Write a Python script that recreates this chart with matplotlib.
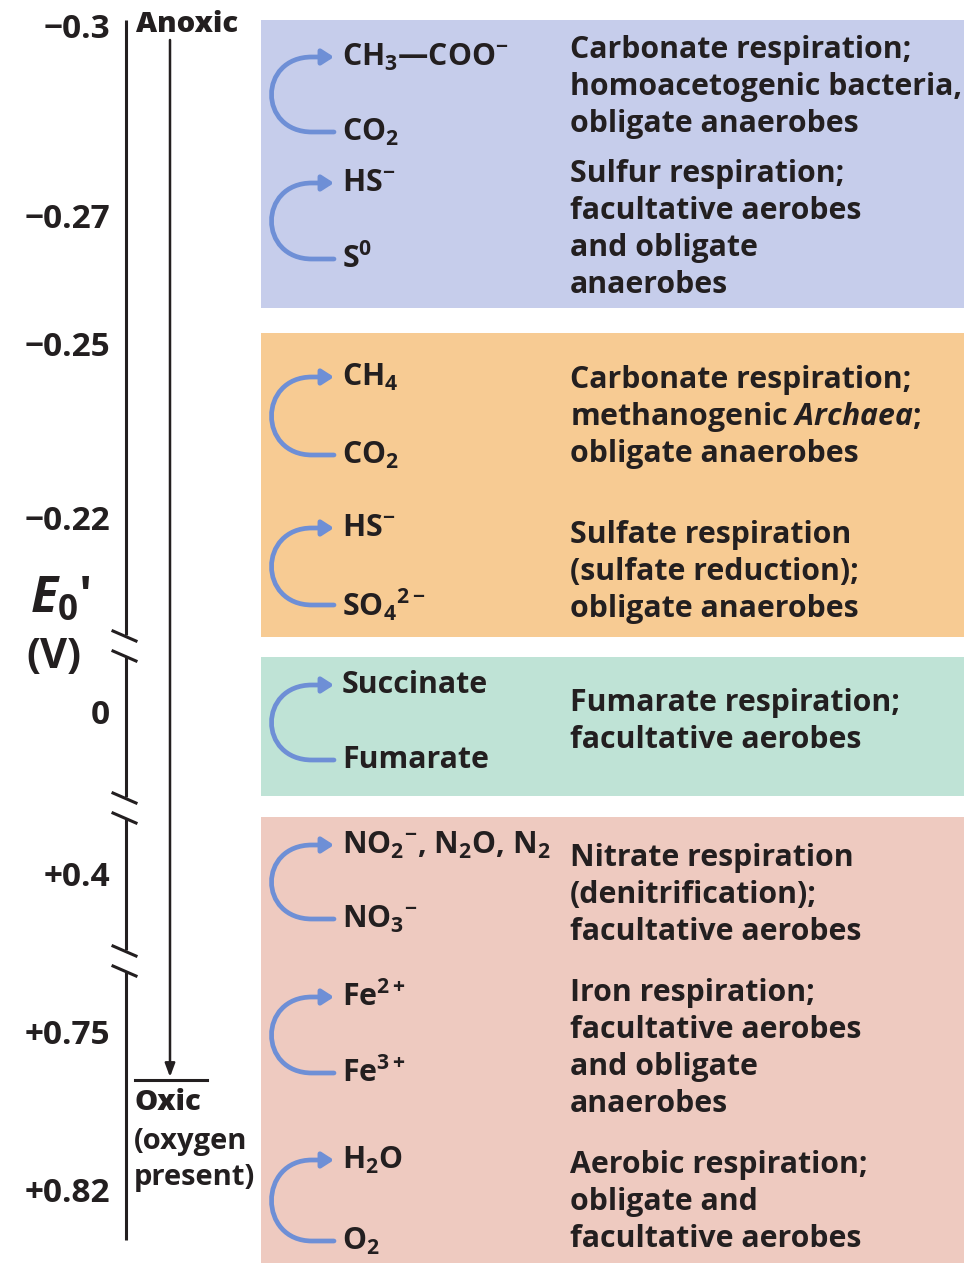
import matplotlib
matplotlib.use("Agg")
import matplotlib.pyplot as plt
from matplotlib.patches import Rectangle, FancyArrowPatch
from matplotlib.path import Path

plt.rcParams['font.family'] = ['Open Sans', 'DejaVu Sans']
plt.rcParams['font.weight'] = 'bold'
plt.rcParams['mathtext.fontset'] = 'custom'
plt.rcParams['mathtext.rm'] = 'Open Sans:bold'
plt.rcParams['mathtext.bf'] = 'Open Sans:bold'
plt.rcParams['mathtext.it'] = 'Open Sans:bold:italic'

# E0' scale (V), broken axis
tick_labels = ['\u22120.3', '\u22120.27', '\u22120.25', '\u22120.22', '0', '+0.4', '+0.75', '+0.82']
tick_y = [30, 220, 348, 522, 716, 877, 1035, 1193]
break_y = [646, 808, 961]

# coloured groups
group_colors = ['#C6CDEB', '#F7CB93', '#BFE3D6', '#EECAC0']
group_top = [20, 333, 657, 817]
group_bottom = [308, 637, 796, 1263]

# redox couples: (reduced product, oxidised acceptor)
products = [r'$\mathrm{CH_3}$' + '\u2014' + r'$\mathrm{COO^{-}}$', r'$\mathrm{HS^{-}}$',
            r'$\mathrm{CH_4}$', r'$\mathrm{HS^{-}}$',
            'Succinate',
            r'$\mathrm{NO_2{}^{-}}$, $\mathrm{N_2O}$, $\mathrm{N_2}$', r'$\mathrm{Fe^{2+}}$',
            r'$\mathrm{H_2O}$']
acceptors = [r'$\mathrm{CO_2}$', r'$\mathrm{S^0}$',
             r'$\mathrm{CO_2}$', r'$\mathrm{SO_4{}^{2-}}$',
             'Fumarate',
             r'$\mathrm{NO_3{}^{-}}$', r'$\mathrm{Fe^{3+}}$',
             r'$\mathrm{O_2}$']
prod_y = [57, 183, 377, 528, 685, 845, 997, 1160]
acc_y = [132, 259, 455, 605, 760, 919, 1073, 1241]

descriptions = [
    ['Carbonate respiration;', 'homoacetogenic bacteria,', 'obligate anaerobes'],
    ['Sulfur respiration;', 'facultative aerobes', 'and obligate', 'anaerobes'],
    ['Carbonate respiration;', r'methanogenic $\mathit{Archaea}$;', 'obligate anaerobes'],
    ['Sulfate respiration', '(sulfate reduction);', 'obligate anaerobes'],
    ['Fumarate respiration;', 'facultative aerobes'],
    ['Nitrate respiration', '(denitrification);', 'facultative aerobes'],
    ['Iron respiration;', 'facultative aerobes', 'and obligate', 'anaerobes'],
    ['Aerobic respiration;', 'obligate and', 'facultative aerobes'],
]
desc_top = [50, 174, 380, 535, 703, 858, 993, 1165]

W, H = 964, 1263
fig = plt.figure(figsize=(W / 100, H / 100), dpi=100)
ax = fig.add_axes([0, 0, 1, 1])
ax.set_xlim(0, W)
ax.set_ylim(H, 0)
ax.axis('off')

fs = 21.8
ink = '#231F20'
arrow_c = '#6E8FD6'

for c, t, b in zip(group_colors, group_top, group_bottom):
    ax.add_patch(Rectangle((261, t), W - 261, b - t, facecolor=c, edgecolor='none'))

# main potential axis with breaks
segs = [20] + [v for y in break_y for v in (y - 11, y + 11)] + [1240]
for y0, y1 in zip(segs[::2], segs[1::2]):
    ax.plot([126, 126], [y0, y1], color=ink, lw=2.2, solid_capstyle='butt')
for y in break_y:
    for d in (-10, 10):
        ax.plot([113, 136], [y + d - 5, y + d + 5], color=ink, lw=2.2)

for lab, y in zip(tick_labels, tick_y):
    ax.text(110, y, lab, ha='right', va='center', fontsize=24, color=ink)

ax.text(60, 600, r"$E_{\mathrm{0}}$′", ha='center', va='center', fontsize=36, color=ink)
ax.text(54, 658, '(V)', ha='center', va='center', fontsize=30, color=ink)

# anoxic -> oxic arrow
ax.annotate('', xy=(170, 1077), xytext=(170, 40),
            arrowprops=dict(arrowstyle='-|>,head_length=0.8,head_width=0.3',
                            color=ink, lw=1.8, shrinkA=0, shrinkB=0))
ax.plot([135, 207], [1080, 1080], color=ink, lw=2.2)
ax.text(136, 24, 'Anoxic', ha='left', va='center', fontsize=21, color=ink, fontweight='heavy')
ax.text(134, 1103, 'Oxic', ha='left', va='center', fontsize=21, color=ink, fontweight='heavy')
ax.text(134, 1141, '(oxygen', ha='left', va='center', fontsize=21, color=ink)
ax.text(134, 1177, 'present)', ha='left', va='center', fontsize=21, color=ink)

# couples and curved arrows
for p, a, yp, ya in zip(products, acceptors, prod_y, acc_y):
    ax.text(342, yp, p, ha='left', va='center', fontsize=fs, color=ink)
    ax.text(342, ya, a, ha='left', va='center', fontsize=fs, color=ink)
    verts = [(334, ya), (312, ya),
             (258, ya), (258, yp), (312, yp),
             (334, yp)]
    codes = [Path.MOVETO, Path.LINETO, Path.CURVE4, Path.CURVE4, Path.CURVE4, Path.LINETO]
    arr = FancyArrowPatch(path=Path(verts, codes),
                          arrowstyle='-|>,head_length=7,head_width=4.5',
                          color=arrow_c, lw=3.4, shrinkA=0, shrinkB=0)
    ax.add_patch(arr)

for lines, y0 in zip(descriptions, desc_top):
    for i, line in enumerate(lines):
        ax.text(570, y0 + 37 * i, line, ha='left', va='center', fontsize=fs, color=ink)

fig.savefig('out.png', dpi=100)
